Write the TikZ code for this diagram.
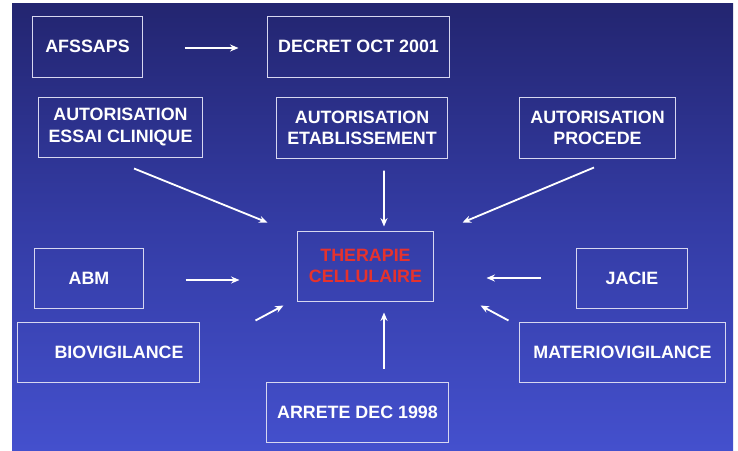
\documentclass[tikz,border=0pt]{standalone}
\usepackage{fontspec}
\setmainfont{Liberation Sans}
\usetikzlibrary{arrows.meta}
\definecolor{bgtop}{RGB}{35,37,112}
\definecolor{bgmid}{RGB}{52,60,165}
\definecolor{bgbot}{RGB}{68,80,205}
\definecolor{boxline}{RGB}{215,215,240}
\definecolor{thred}{RGB}{230,50,45}

\begin{document}
\begin{tikzpicture}[x=0.025cm,y=-0.025cm,
  box/.style={draw=boxline,line width=0.7pt,inner sep=0pt,align=center,
    text=white,font=\fontsize{12.7}{15}\selectfont\bfseries},
  arr/.style={white,line width=1.3pt,-{Stealth[length=6pt,width=5pt]}}]
\useasboundingbox (0,0) rectangle (738,450);
% background
\shade[top color=bgtop,bottom color=bgbot,middle color=bgmid] (12,3) rectangle (733,450);

% top rows
\node [box,minimum width=2.725cm,minimum height=1.525cm] (afssaps) at (87.5,46.5) {AFSSAPS};
\node [box,minimum width=4.525cm,minimum height=1.525cm] (decret) at (358.5,46.5) {DECRET OCT 2001};
\node [box,minimum width=4.075cm,minimum height=1.5cm] (essai) at (120.5,127) {AUTORISATION\\ESSAI CLINIQUE};
\node [box,minimum width=4.25cm,minimum height=1.525cm] (etab) at (362,127.5) {AUTORISATION\\ETABLISSEMENT};
\node [box,minimum width=3.875cm,minimum height=1.525cm] (procede) at (597.5,127.5) {AUTORISATION\\PROCEDE};

% centre
\node [box,text=thred,minimum width=3.375cm,minimum height=1.75cm] (therapie) at (365.5,266) {THERAPIE\\CELLULAIRE};

% sides and bottom
\node [box,minimum width=2.7cm,minimum height=1.5cm] (abm) at (89,278) {ABM};
\node [box,minimum width=4.525cm,minimum height=1.5cm] (bio) at (108.5,352) {\hspace{15pt}BIOVIGILANCE};
\node [box,minimum width=4.525cm,minimum height=1.5cm] (arrete) at (357.5,412) {ARRETE DEC 1998};
\node [box,minimum width=2.75cm,minimum height=1.5cm] (jacie) at (632,278) {JACIE};
\node [box,minimum width=5.125cm,minimum height=1.5cm] (materio) at (622.5,352) {MATERIOVIGILANCE};

% arrows
\draw[arr] ([shift={(42,1.5)}]afssaps.east) -- ([shift={(-29,1.5)}]decret.west);
\draw[arr] ([shift={(13.5,11)}]essai.south) -- ([shift={(-30,-8)}]therapie.north west);
\draw[arr] ([shift={(22,12)}]etab.south) -- ([shift={(18.5,-4)}]therapie.north);
\draw[arr] ([shift={(-3.5,9)}]procede.south) -- ([shift={(29,-8)}]therapie.north east);
\draw[arr] ([shift={(42,2)}]abm.east) -- ([shift={(-58,14)}]therapie.west);
\draw[arr] ([shift={(56,-1)}]bio.north east) -- ([shift={(-14,4)}]therapie.south west);
\draw[arr] ([shift={(-35,0)}]jacie.west) -- ([shift={(53,12)}]therapie.east);
\draw[arr] ([shift={(-11,-1)}]materio.north west) -- ([shift={(47,4)}]therapie.south east);
\draw[arr] ([shift={(26.5,-13)}]arrete.north) -- ([shift={(18.5,11)}]therapie.south);
\end{tikzpicture}
\end{document}
